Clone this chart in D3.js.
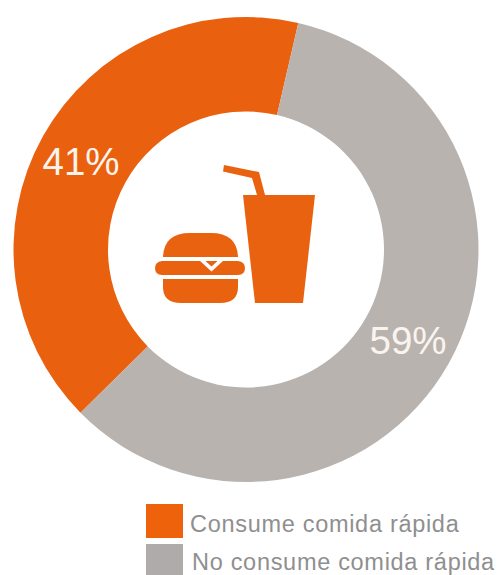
<!DOCTYPE html>
<html>
<head>
<meta charset="utf-8">
<script src="https://cdn.jsdelivr.net/npm/d3@7/dist/d3.min.js"></script>
<style>
html,body{margin:0;padding:0;background:#fff;overflow:hidden}
svg{display:block}
text{font-family:"Liberation Sans",Arial,sans-serif}
</style>
</head>
<body>
<svg id="chart" width="500" height="575"></svg>
<script>
const categories = ["Consume comida rápida", "No consume comida rápida"];
const shares = [41, 59];
const colors = ["#e9610f", "#b9b3b0"];
const iconColor = "#e8620f";

const svg = d3.select("#chart");
const cx = 246, cy = 249.5, outerR = 232.5, innerR = 138;
const rotation = 13 * Math.PI / 180;
const start = rotation - 2 * Math.PI * shares[0] / 100;

const pie = d3.pie().sort(null).value(d => d)
  .startAngle(start)
  .endAngle(start + 2 * Math.PI);
const arc = d3.arc().innerRadius(innerR).outerRadius(outerR);

const ring = svg.append("g").attr("transform", `translate(${cx},${cy})`);
const arcs = pie(shares);
ring.selectAll("path").data(arcs).join("path")
  .attr("d", arc).attr("fill", (d, i) => colors[i]);

// Percentage labels sit on the ring, away from the slice centres
const labelPos = [[-165, -88.5], [162, 90.5]];
ring.selectAll("text").data(arcs).join("text")
  .attr("x", (d, i) => labelPos[i][0])
  .attr("y", (d, i) => labelPos[i][1])
  .attr("text-anchor", "middle")
  .attr("dominant-baseline", "central")
  .attr("font-size", 38.5)
  .attr("fill", "#fbf4ee")
  .text(d => d.data + "%");

// Fast food pictogram: burger with a cheese fold, and a cup with a bent straw
const icon = svg.append("g").attr("fill", iconColor);
icon.append("path").attr("d", "M163,257 Q164,233 190,233 L211,233 Q237,233 238,257 Z");
icon.append("path").attr("d", "M162,261 L238,261 Q245,262 245,268 Q245,275 238,275 L162,275 Q155,275 155,268 Q155,262 162,261 Z");
icon.append("path").attr("d", "M163,279 L238,279 L238,287 Q238,303 220,303 L181,303 Q163,303 163,287 Z");
icon.append("path").attr("d", "M200,261 L223,261 L211.5,271.5 Z M205.5,261 L217.5,261 L211.5,266.5 Z")
  .attr("fill", "#fff").attr("fill-rule", "evenodd");
icon.append("path").attr("d", "M243,195 L315,195 L303,303 L255,303 Z");
icon.append("path").attr("d", "M224,165 L259,172 L265,195 L257,195 L252,178 L223,171.5 Z");

const legend = svg.append("g");
const rows = legend.selectAll("g").data(categories).join("g");
rows.append("rect")
  .attr("x", 146)
  .attr("y", (d, i) => 504 + i * 40)
  .attr("width", 37).attr("height", 34)
  .attr("fill", (d, i) => i === 0 ? "#ee620c" : "#b0abab");
rows.append("text")
  .attr("x", (d, i) => 190 + i * 2)
  .attr("y", (d, i) => 532 + i * 38)
  .attr("font-size", 23.5).attr("letter-spacing", 0.7)
  .attr("fill", "#8f8f8f").text(d => d);
</script>
</body>
</html>
